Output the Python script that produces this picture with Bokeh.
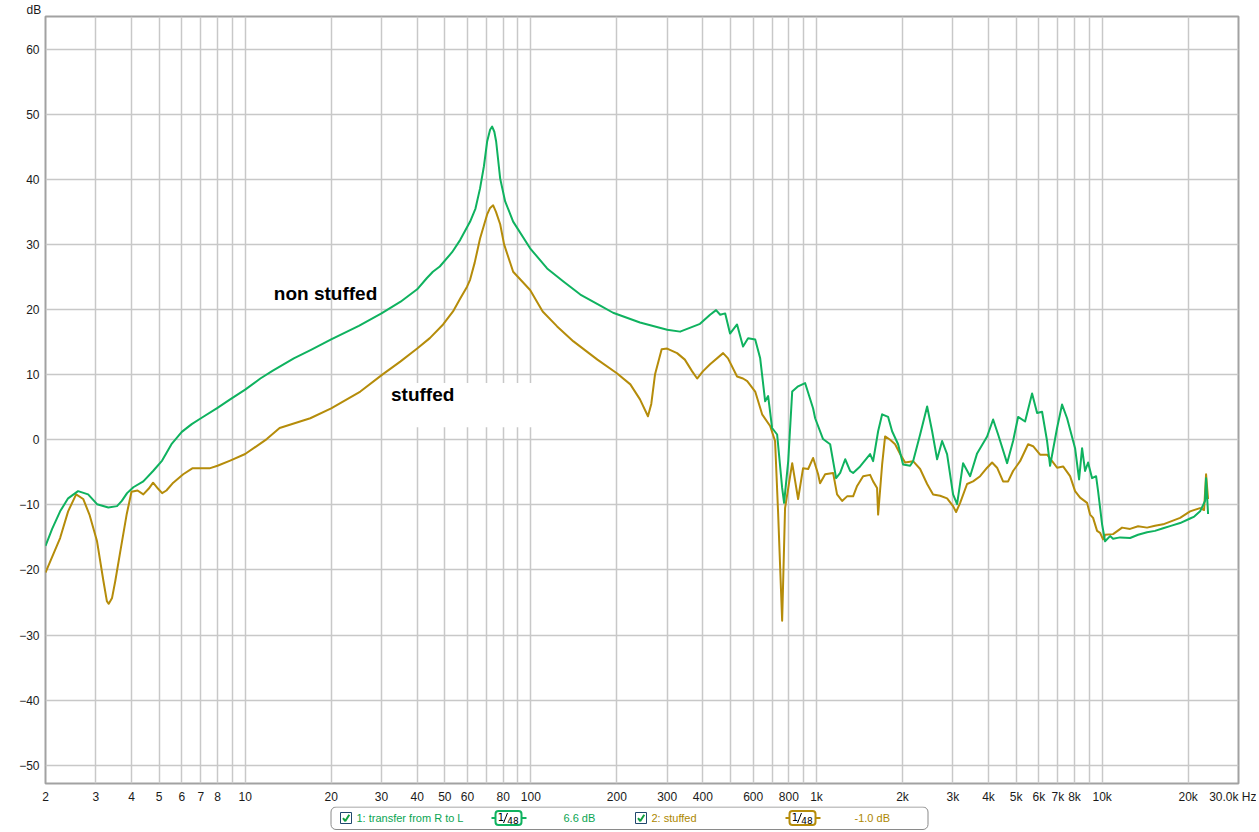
from bokeh.plotting import figure
from bokeh.models import FixedTicker, Range1d
from bokeh.layouts import column
from bokeh.embed import file_html
from bokeh.resources import INLINE
from bokeh.core.properties import value

# ---------------- data ----------------
green_name = "1: transfer from R to L"
gold_name = "2: stuffed"
green_offset = "6.6 dB"
gold_offset = "-1.0 dB"

green_freq = [
    2.0, 2.11, 2.25, 2.4, 2.6, 2.82, 3.03, 3.32, 3.56, 3.7,
    3.86, 4.06, 4.4, 4.76, 5.12, 5.54, 6.0, 6.5, 7.0, 8.0,
    8.86, 10.0, 11.3, 12.5, 14.8, 17.0, 20.0, 25.0, 30.0, 35.0,
    40.0, 43.2, 45.4, 48.0, 53.0, 56.6, 61.3, 64.0, 66.4, 68.5,
    70.3, 72.0, 73.2, 74.5, 75.6, 78.1, 81.3, 86.7, 99.4, 114,
    130, 149, 175, 194, 241, 300, 333, 391, 424, 445,
    460, 479, 498, 527, 553, 576, 610, 635, 661, 677,
    699, 728, 758, 770, 796, 822, 862, 912, 973, 989,
    1054, 1116, 1171, 1210, 1260, 1311, 1343, 1421, 1540, 1578,
    1643, 1697, 1781, 1839, 1930, 2009, 2126, 2178, 2305, 2439,
    2539, 2643, 2752, 2864, 3006, 3105, 3259, 3449, 3648, 3955,
    4151, 4322, 4646, 4876, 5077, 5371, 5683, 5917, 6160, 6413,
    6570, 6951, 7237, 7535, 8036, 8300, 8503, 8711, 8925, 9217,
    9519, 9674, 9991, 10235, 10656, 10916, 11552, 12520, 13354, 14358,
    15300, 16338, 17500, 18736, 20306, 21000, 22010, 22914, 23100, 23476,
]
green_db = [
    -16.3, -13.7, -11.0, -9.0, -7.9, -8.4, -9.9, -10.4, -10.2, -9.4,
    -8.2, -7.3, -6.4, -4.8, -3.2, -0.6, 1.2, 2.4, 3.3, 4.9,
    6.2, 7.7, 9.4, 10.6, 12.5, 13.8, 15.4, 17.5, 19.4, 21.2,
    23.1, 24.8, 25.8, 26.6, 28.8, 30.7, 33.5, 35.5, 38.6, 42.0,
    45.8, 47.6, 48.1, 47.3, 45.8, 40.1, 36.6, 33.5, 29.4, 26.3,
    24.3, 22.3, 20.6, 19.5, 18.0, 16.9, 16.6, 17.8, 19.2, 19.9,
    19.2, 19.4, 16.3, 17.7, 14.3, 15.6, 15.4, 12.5, 5.9, 6.7,
    1.8, 0.8, -7.4, -9.7, -3.3, 7.4, 8.2, 8.7, 4.8, 3.3,
    0.1, -0.7, -5.9, -5.1, -3.0, -4.8, -5.1, -4.1, -2.2, -3.3,
    1.3, 3.9, 3.5, 1.3, -0.7, -3.8, -4.0, -3.3, 0.8, 5.1,
    1.3, -3.0, -0.2, -2.2, -8.4, -9.9, -3.6, -5.6, -2.1, 0.5,
    3.1, 0.8, -3.6, -0.2, 3.5, 2.8, 7.1, 4.1, 4.3, -0.2,
    -4.0, 1.8, 5.4, 3.3, -1.3, -6.1, -1.3, -4.8, -3.5, -5.9,
    -5.6, -7.9, -13.0, -15.6, -14.8, -15.2, -15.0, -15.1, -14.6, -14.2,
    -14.0, -13.6, -13.2, -12.8, -12.1, -11.8, -11.0, -9.4, -5.9, -11.4,
]

gold_freq = [
    2.0, 2.25, 2.4, 2.56, 2.71, 2.85, 3.03, 3.19, 3.28, 3.33,
    3.42, 3.51, 3.64, 3.85, 4.0, 4.2, 4.4, 4.6, 4.76, 4.95,
    5.12, 5.3, 5.6, 6.07, 6.53, 7.5, 8.0, 8.86, 10.0, 11.9,
    13.2, 16.9, 20.0, 25.3, 30.2, 34.9, 40.0, 44.3, 49.3, 53.4,
    56.6, 59.8, 61.3, 63.6, 66.4, 70.3, 72.0, 73.8, 75.5, 78.1,
    80.6, 86.7, 99.4, 110, 123.6, 141, 171, 200, 223, 241,
    257, 264, 272, 287, 300, 325, 346, 367, 382, 400,
    424, 471, 490, 527, 553, 572, 610, 645, 688, 716,
    734, 758, 776, 822, 862, 897, 935, 973, 1013, 1029,
    1072, 1143, 1180, 1229, 1279, 1343, 1387, 1456, 1540, 1578,
    1629, 1643, 1697, 1738, 1810, 1884, 1962, 2042, 2178, 2305,
    2439, 2559, 2708, 2864, 3006, 3080, 3182, 3365, 3532, 3738,
    3955, 4117, 4286, 4498, 4684, 4876, 5159, 5503, 5729, 6062,
    6413, 6677, 6951, 7296, 7719, 8036, 8367, 8853, 9070, 9292,
    9596, 9831, 10072, 10235, 10916, 11739, 12520, 13354, 14358, 15300,
    16338, 17500, 18736, 20306, 22010, 22730, 23100, 23476,
]
gold_db = [
    -20.4, -15.1, -11.0, -8.4, -9.1, -11.5, -15.6, -21.7, -24.8, -25.2,
    -24.3, -21.7, -17.6, -11.4, -8.0, -7.8, -8.4, -7.5, -6.6, -7.5,
    -8.2, -7.8, -6.6, -5.3, -4.4, -4.4, -4.0, -3.2, -2.2, 0.1,
    1.8, 3.3, 4.8, 7.4, 10.0, 12.0, 14.0, 15.6, 17.7, 19.7,
    21.7, 23.5, 24.6, 27.2, 30.9, 34.6, 35.6, 36.0, 35.0, 33.1,
    30.0, 25.8, 23.0, 19.7, 17.4, 15.1, 12.3, 10.2, 8.5, 6.2,
    3.6, 5.5, 10.0, 13.9, 14.0, 13.3, 12.3, 10.5, 9.4, 10.5,
    11.6, 13.3, 12.5, 9.7, 9.4, 9.0, 7.4, 3.9, 2.1, -0.2,
    -11.4, -27.8, -10.5, -3.6, -9.1, -4.4, -4.5, -2.8, -5.3, -6.7,
    -5.3, -5.1, -8.4, -9.4, -8.7, -8.7, -7.1, -5.6, -5.4, -6.4,
    -7.4, -11.5, -3.8, 0.5, 0.0, -0.7, -2.2, -3.5, -3.3, -4.5,
    -6.8, -8.4, -8.6, -9.0, -10.2, -11.1, -9.7, -6.8, -6.4, -5.6,
    -4.3, -3.5, -4.3, -6.4, -6.4, -4.8, -3.3, -0.7, -1.0, -2.3,
    -2.3, -3.3, -4.3, -4.1, -5.6, -7.9, -8.9, -9.7, -11.5, -12.0,
    -14.0, -14.3, -15.3, -14.6, -14.5, -13.5, -13.7, -13.3, -13.5, -13.2,
    -13.0, -12.5, -12.0, -11.0, -10.5, -10.8, -5.3, -9.1,
]
assert len(green_freq) == len(green_db)
assert len(gold_freq) == len(gold_db)

x_label_ticks = [2, 3, 4, 5, 6, 7, 8, 10, 20, 30, 40, 50, 60, 80, 100, 200, 300, 400,
                 600, 800, 1000, 2000, 3000, 4000, 5000, 6000, 7000, 8000, 10000, 20000, 30000]
x_label_text = ["2", "3", "4", "5", "6", "7", "8", "10", "20", "30", "40", "50", "60", "80",
                "100", "200", "300", "400", "600", "800", "1k", "2k", "3k", "4k", "5k", "6k",
                "7k", "8k", "10k", "20k", "30.0k Hz"]
y_ticks = [-50, -40, -30, -20, -10, 0, 10, 20, 30, 40, 50, 60]
y_unit = "dB"

X_MIN, X_MAX = 2, 30000
Y_MIN, Y_MAX = -52.8, 65

# ---------------- style ----------------
GREEN = "#0fb25f"
GREEN_TXT = "#0aa552"
GOLD = "#b58c0a"
GOLD_TXT = "#ad8700"
GRID = "#c8c8c8"
FONT = "Liberation Sans"
TXT = "#1a1a1a"

W = 1256
FRAME_L = 45
FRAME_R = 1238
MAIN_H = 806
LEG_H = 24

p = figure(width=W, height=MAIN_H, x_axis_type="log",
           x_range=Range1d(X_MIN, X_MAX), y_range=Range1d(Y_MIN, Y_MAX),
           output_backend="svg", toolbar_location=None, title=y_unit,
           min_border_left=FRAME_L, min_border_right=W - FRAME_R,
           min_border_top=15, min_border_bottom=23)
p.background_fill_color = "white"
p.border_fill_color = "white"
p.outline_line_color = "#a2a2a2"
p.outline_line_width = 2

p.title.align = "left"
p.title.offset = -19
p.title.standoff = 0
p.title.text_font = FONT
p.title.text_font_size = "12px"
p.title.text_font_style = "normal"
p.title.text_color = TXT

grid_ticks = []
for dec in [1, 10, 100, 1000, 10000]:
    for m in range(1, 10):
        v = m * dec
        if X_MIN <= v <= X_MAX:
            grid_ticks.append(v)

p.xaxis.ticker = FixedTicker(ticks=x_label_ticks)
p.xaxis.major_label_overrides = {t: s for t, s in zip(x_label_ticks, x_label_text)}
p.xgrid.ticker = FixedTicker(ticks=grid_ticks)
p.yaxis.ticker = FixedTicker(ticks=y_ticks)
p.ygrid.ticker = FixedTicker(ticks=y_ticks)
for g in (p.xgrid, p.ygrid):
    g.grid_line_color = GRID
    g.grid_line_width = 1.5

for ax in (p.xaxis[0], p.yaxis[0]):
    ax.axis_line_color = None
    ax.major_tick_line_color = None
    ax.minor_tick_line_color = None
    ax.major_tick_out = 0
    ax.major_tick_in = 0
    ax.minor_tick_out = 0
    ax.minor_tick_in = 0
    ax.major_label_text_font = FONT
    ax.major_label_text_font_size = "12px"
    ax.major_label_text_color = TXT
p.xaxis.major_label_standoff = 6
p.yaxis.major_label_standoff = 6

# white box behind "stuffed" label
p.quad(left=31.2, right=112, bottom=1.9, top=8.7, fill_color="white", line_color=None)

p.line(gold_freq, gold_db, line_color=GOLD, line_width=2, line_join="round")
p.line(green_freq, green_db, line_color=GREEN, line_width=2, line_join="round")

p.text(x=[12.6], y=[22.5], text=["non stuffed"], text_font=value(FONT), text_font_size="19px",
       text_font_style="bold", text_color="black", text_baseline="middle", text_align="left")
p.text(x=[32.4], y=[7.0], text=["stuffed"], text_font=value(FONT), text_font_size="19px",
       text_font_style="bold", text_color="black", text_baseline="middle", text_align="left")

# ---- legend strip (its frame is aligned with the plot frame: x in page pixels) ----
lg = figure(width=W, height=LEG_H, x_range=Range1d(FRAME_L, FRAME_R), y_range=Range1d(LEG_H, 0),
            output_backend="svg", toolbar_location=None,
            min_border_left=FRAME_L, min_border_right=W - FRAME_R, min_border_top=0,
            min_border_bottom=0, x_axis_location=None, y_axis_location=None)
lg.grid.visible = False
lg.outline_line_color = None
lg.background_fill_color = "white"
lg.border_fill_color = "white"

cy = 11.5
lg.quad(left=[330.5], right=[927.5], top=[0.5], bottom=[23.0], fill_color="white",
        line_color="#8a8a8a", line_width=1, border_radius=5)

def checkbox(x0):
    lg.quad(left=[x0], right=[x0 + 11], top=[cy - 5.5], bottom=[cy + 5.5], fill_color="white",
            line_color="#20486e", line_width=1)
    lg.line([x0 + 2.5, x0 + 4.8, x0 + 8.8], [cy + 0.2, cy + 3.0, cy - 3.2], line_color="#10a040",
            line_width=2)

def icon(x0, color):
    lg.line([x0, x0 + 35], [cy, cy], line_color=color, line_width=2)
    lg.quad(left=[x0 + 4], right=[x0 + 30], top=[cy - 7], bottom=[cy + 7], fill_color="white",
            line_color=color, line_width=2, border_radius=3)
    lg.text(x=[x0 + 9.5], y=[cy - 1.5], text=["1"], text_font=value("DejaVu Sans"),
            text_font_size="10px", text_color="black", text_align="center", text_baseline="middle")
    lg.line([x0 + 12, x0 + 16], [cy + 5, cy - 5], line_color="black", line_width=1)
    lg.text(x=[x0 + 21.5], y=[cy + 2], text=["48"], text_font=value("DejaVu Sans"),
            text_font_size="9px", text_color="black", text_align="center", text_baseline="middle")

def ltext(x0, s, color):
    lg.text(x=[x0], y=[cy], text=[s], text_font=value(FONT), text_font_size="11px",
            text_color=color, text_align="left", text_baseline="middle")

checkbox(340)
ltext(356, green_name, GREEN_TXT)
icon(491, GREEN)
ltext(563, green_offset, GREEN_TXT)
checkbox(635)
ltext(651, gold_name, GOLD_TXT)
icon(785, GOLD)
ltext(854, gold_offset, GOLD_TXT)

layout = column(p, lg, spacing=0)
open("out.html", "w").write(file_html(layout, INLINE))
